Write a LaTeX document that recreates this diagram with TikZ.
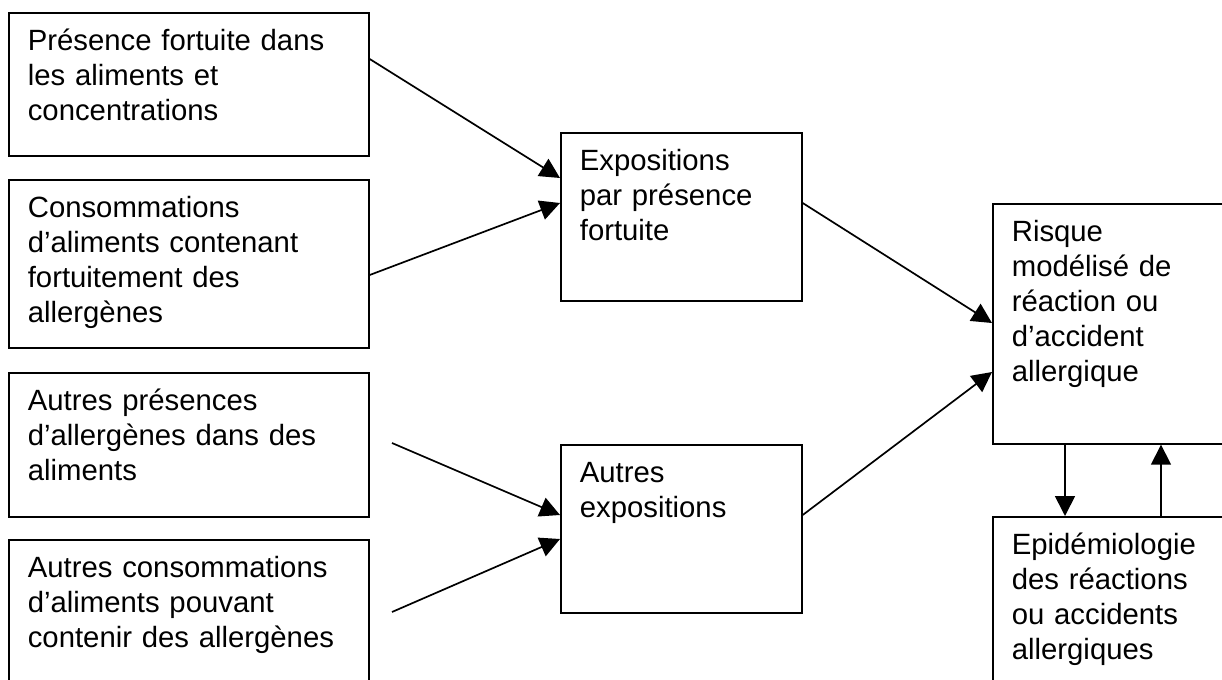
\documentclass[tikz,border=0pt]{standalone}
\usepackage{fontspec}
\setmainfont{Liberation Sans}
\usetikzlibrary{arrows.meta, calc}

\begin{document}
\begin{tikzpicture}[x=0.5pt, y=-0.5pt,
  ebox/.style={draw, line width=0.85pt, anchor=north west, align=left, inner xsep=9.5pt, inner ysep=8pt, text height=11pt, font=\fontsize{14.65}{17.5}\selectfont},
  flow/.style={-{Triangle[length=10pt, width=10pt]}, line width=0.85pt}]
  \useasboundingbox (0,0) rectangle (1222,680);

  % Sources
  \node[ebox, text width=161pt, text depth=44.5pt] (pres) at (8, 12) {Présence fortuite dans\\les aliments et\\concentrations};
  \node[ebox, text width=161pt, text depth=57pt] (conso) at (8, 179) {Consommations\\d’aliments contenant\\fortuitement des\\allergènes};
  \node[ebox, text width=161pt, text depth=45pt] (autpres) at (8, 372) {Autres présences\\d’allergènes dans des\\aliments};
  \node[ebox, text width=161pt, text depth=53pt] (autconso) at (8, 539) {Autres consommations\\d’aliments pouvant\\contenir des allergènes};

  % Expositions
  \node[ebox, text width=101.5pt, text depth=57pt] (expfort) at (560, 132) {Expositions\\par présence\\fortuite};
  \node[ebox, text width=101.5pt, text depth=57pt] (expaut) at (560, 444) {Autres\\expositions};

  % Risque et epidemiologie
  \node[ebox, text width=121pt, text depth=93pt] (risque) at (992, 203) {Risque\\modélisé de\\réaction ou\\d’accident\\allergique};
  \node[ebox, text width=121pt, text depth=63pt] (epid) at (992, 516) {Epidémiologie\\des réactions\\ou accidents\\allergiques};

  \coordinate (srcautpres) at (392, 443);
  \coordinate (srcautconso) at (392, 612);

  % Arrows
  \draw[flow] ([yshift=-23.5pt]pres.north east) -- ([yshift=-23pt]expfort.north west);
  \draw[flow] ([yshift=-48pt]conso.north east) -- ([yshift=-35.5pt]expfort.north west);
  \draw[flow] (srcautpres) -- ([yshift=-35.5pt]expaut.north west);
  \draw[flow] (srcautconso) -- ([yshift=-47.5pt]expaut.north west);
  \draw[flow] ([yshift=-35.5pt]expfort.north east) -- ([yshift=-60pt]risque.north west);
  \draw[flow] ([yshift=-35.5pt]expaut.north east) -- ([yshift=-84.5pt]risque.north west);
  \draw[flow] ([xshift=36.5pt]risque.south west) -- ([xshift=36.5pt]epid.north west);
  \draw[flow] ([xshift=84.5pt]epid.north west) -- ([xshift=84.5pt]risque.south west);
\end{tikzpicture}
\end{document}
